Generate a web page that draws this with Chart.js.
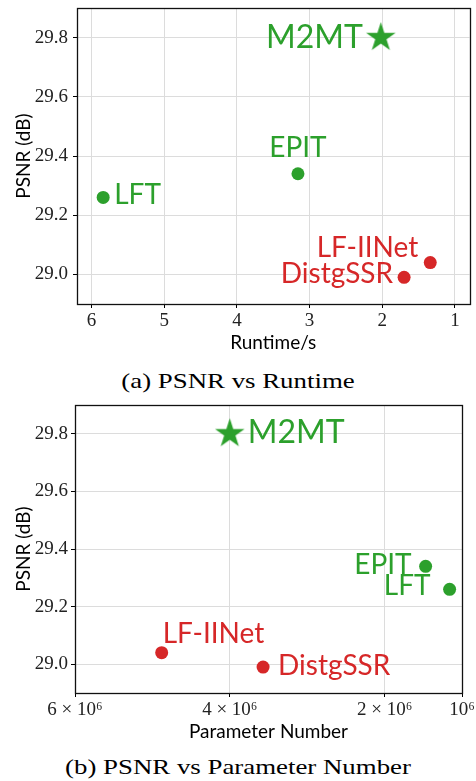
<!DOCTYPE html>
<html lang="en">
<head>
<meta charset="UTF-8">
<title>PSNR vs Runtime / Parameter Number</title>
<script src="https://cdn.jsdelivr.net/npm/chart.js@4.4.0/dist/chart.umd.min.js"></script>
<style>
    body { margin: 0; background: #fff; width: 476px; height: 781px; position: relative; overflow: hidden; }
    canvas { position: absolute; left: 0; }
    #chart_a { top: 0; }
    #chart_b { top: 380px; }
    .caption { position: absolute; left: 0; width: 476px; text-align: center; font-family: "Liberation Serif", serif;
               font-size: 22px; line-height: 22px; color: #000; transform: scaleX(1.22); }
</style>
</head>
<body>
<canvas id="chart_a" width="476" height="368"></canvas>
<div class="caption" style="top:370px">(a) PSNR vs Runtime</div>
<canvas id="chart_b" width="476" height="372"></canvas>
<div class="caption" style="top:756px">(b) PSNR vs Parameter Number</div>

<script>
    // data
    const methods = ['LFT', 'EPIT', 'DistgSSR', 'LF-IINet', 'M2MT'];
    const runtime = [5.84, 3.16, 1.70, 1.34, 2.02];
    const params = [1.16e6, 1.47e6, 3.57e6, 4.88e6, 4.00e6];
    const psnr = [29.26, 29.34, 28.99, 29.04, 29.80];

    const psnrTicks = [29.0, 29.2, 29.4, 29.6, 29.8];
    const runtimeTicks = [6, 5, 4, 3, 2, 1];
    const paramTicks = [6e6, 4e6, 2e6, 1e6];
    const paramTickLabels = ['6 × 10⁶', '4 × 10⁶', '2 × 10⁶', '10⁶'];

    // styling
    const GREEN = '#2ca02c', RED = '#d62728';
    const pointColors = [GREEN, GREEN, RED, RED, GREEN];
    const labelSizes = [28, 28, 28, 28, 32];
    // label offset from its point: dx, dy (baseline), align
    const labelPosA = [[11, 7, 'left'], [0, -17, 'center'], [-11, 6, 'right'], [-12, -6, 'right'], [-18, 10, 'right']];
    const labelPosB = [[-19, 6, 'right'], [-14, 8, 'right'], [15, 8, 'left'], [1, -10, 'left'], [18, 9, 'left']];

    function makeStar(color, R) {
        const c = document.createElement('canvas');
        const s = Math.ceil(R * 2) + 2;
        c.width = s; c.height = s;
        const g = c.getContext('2d');
        g.fillStyle = color;
        g.beginPath();
        for (let i = 0; i < 10; i++) {
            const r = i % 2 ? R * 0.382 : R;
            const a = -Math.PI / 2 + i * Math.PI / 5;
            g.lineTo(s / 2 + r * Math.cos(a), s / 2 + r * Math.sin(a));
        }
        g.closePath();
        g.fill();
        return c;
    }
    const star = makeStar(GREEN, 15.5);
    const pointStyles = ['circle', 'circle', 'circle', 'circle', star];

    const frame = {
        id: 'frame',
        afterDraw(chart) {
            const a = chart.chartArea, ctx = chart.ctx;
            ctx.save();
            ctx.strokeStyle = '#111';
            ctx.lineWidth = 1.3;
            ctx.strokeRect(Math.round(a.left) + 0.5, Math.round(a.top) + 0.5,
                Math.round(a.right - a.left), Math.round(a.bottom - a.top));
            ctx.restore();
        }
    };

    const pointLabels = {
        id: 'pointLabels',
        afterDatasetsDraw(chart, args, opts) {
            const ctx = chart.ctx;
            const meta = chart.getDatasetMeta(0);
            ctx.save();
            meta.data.forEach((pt, i) => {
                const p = opts.pos[i];
                ctx.font = labelSizes[i] + 'px Lato';
                ctx.fillStyle = pointColors[i];
                ctx.textAlign = p[2];
                ctx.textBaseline = 'alphabetic';
                ctx.fillText(methods[i], pt.x + p[0], pt.y + p[1]);
            });
            ctx.restore();
        }
    };

    const tickFont = { family: '"Liberation Serif", serif', size: 19 };
    const titleFont = { family: 'Lato', size: 19 };
    const gridOpts = { color: '#dcdcdc', lineWidth: 1, tickColor: '#000', tickLength: 4 };

    function makeChart(id, xs, xMin, xMax, xTicks, xLabel, xTitle, pos, box) {
        return new Chart(document.getElementById(id), {
            type: 'scatter',
            data: {
                datasets: [{
                    data: xs.map((x, i) => ({ x: x, y: psnr[i] })),
                    backgroundColor: pointColors,
                    borderWidth: 0,
                    pointRadius: 6.5,
                    pointStyle: pointStyles
                }]
            },
            options: {
                responsive: false,
                animation: false,
                devicePixelRatio: 1,
                layout: { padding: box.padding },
                plugins: {
                    legend: { display: false },
                    tooltip: { enabled: false },
                    pointLabels: { pos: pos }
                },
                scales: {
                    x: {
                        type: 'linear',
                        reverse: true,
                        min: xMin,
                        max: xMax,
                        afterBuildTicks: s => { s.ticks = xTicks.map(v => ({ value: v })); },
                        afterFit: s => { s.height = box.xHeight; s.paddingLeft = 0; s.paddingRight = 0; },
                        ticks: { font: tickFont, color: '#222', padding: 2, autoSkip: false, maxRotation: 0, callback: xLabel },
                        grid: gridOpts,
                        border: { display: false },
                        title: { display: true, text: xTitle, font: titleFont, color: '#000', padding: { top: 0, bottom: box.titlePad } }
                    },
                    y: {
                        min: 28.9,
                        max: 29.9,
                        afterBuildTicks: s => { s.ticks = psnrTicks.map(v => ({ value: v })); },
                        afterFit: s => { s.width = box.yWidth; s.paddingTop = 0; s.paddingBottom = 0; },
                        ticks: { font: tickFont, color: '#222', padding: box.yPad, callback: v => v.toFixed(1) },
                        grid: gridOpts,
                        border: { display: false },
                        title: { display: true, text: 'PSNR (dB)', font: titleFont, color: '#000', padding: { top: 12, bottom: 0 } }
                    }
                }
            },
            plugins: [frame, pointLabels]
        });
    }

    makeChart('chart_a', runtime, 0.8, 6.2, runtimeTicks, v => String(v), 'Runtime/s', labelPosA,
        { padding: { top: 8, right: 2, left: 0, bottom: 0 }, xHeight: 64, yWidth: 77, yPad: 5, titlePad: 14 });

    makeChart('chart_b', params, 1e6, 6e6, paramTicks, (v, i) => paramTickLabels[i], 'Parameter Number', labelPosB,
        { padding: { top: 25, right: 14, left: 0, bottom: 0 }, xHeight: 59, yWidth: 75, yPad: 3, titlePad: 9 });
</script>
</body>
</html>
